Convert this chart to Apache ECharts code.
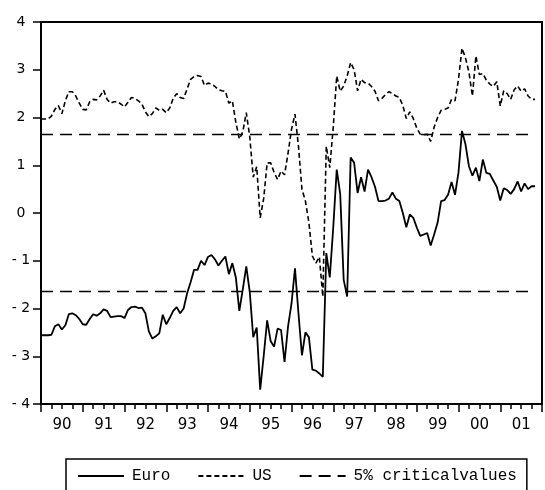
<!DOCTYPE html>
<html><head><meta charset="utf-8">
<script src="https://cdn.jsdelivr.net/npm/echarts@6/dist/echarts.min.js"></script>
<style>html,body{margin:0;padding:0;background:#fff}#c{width:545px;height:490px}</style>
</head><body><div id="c"></div>
<script>
const startYear = 1990;
const yearLabels = ['90','91','92','93','94','95','96','97','98','99','00','01'];
const seriesNames = ['Euro', 'US', '5% criticalvalues'];
const criticalValue = 1.645;

// monthly values, 1990:01 onward
const euro = [
  -2.56, -2.56, -2.56, -2.55, -2.37, -2.33, -2.44, -2.35, -2.12, -2.10,
  -2.14, -2.22, -2.33, -2.34, -2.22, -2.12, -2.15, -2.10, -2.02, -2.05,
  -2.18, -2.17, -2.16, -2.16, -2.20, -2.03, -1.97, -1.96, -1.99, -1.98,
  -2.10, -2.48, -2.63, -2.58, -2.52, -2.13, -2.33, -2.20, -2.05, -1.97,
  -2.10, -2.00, -1.68, -1.45, -1.19, -1.19, -1.00, -1.09, -0.92, -0.88,
  -0.97, -1.10, -1.00, -0.91, -1.28, -1.05, -1.35, -2.05, -1.60, -1.12,
  -1.65, -2.60, -2.40, -3.70, -3.00, -2.25, -2.68, -2.80, -2.42, -2.45,
  -3.12, -2.38, -1.90, -1.16, -2.10, -2.98, -2.50, -2.60, -3.28, -3.30,
  -3.36, -3.43, -0.84, -1.35, -0.30, 0.91, 0.40, -1.40, -1.75, 1.16,
  1.05, 0.42, 0.75, 0.45, 0.91, 0.75, 0.55, 0.25, 0.25, 0.26,
  0.30, 0.43, 0.30, 0.25, 0.00, -0.30, -0.03, -0.10, -0.30, -0.48,
  -0.45, -0.42, -0.68, -0.45, -0.20, 0.25, 0.27, 0.38, 0.65, 0.38,
  0.85, 1.72, 1.44, 0.98, 0.78, 0.95, 0.67, 1.12, 0.84, 0.82,
  0.68, 0.55, 0.26, 0.52, 0.48, 0.40, 0.50, 0.66, 0.45, 0.62,
  0.50, 0.56, 0.56
];
const us = [
  1.97, 1.97, 1.97, 2.03, 2.17, 2.25, 2.08, 2.35, 2.54, 2.54,
  2.45, 2.30, 2.17, 2.16, 2.33, 2.38, 2.37, 2.45, 2.57, 2.38,
  2.30, 2.33, 2.33, 2.28, 2.22, 2.32, 2.42, 2.40, 2.35, 2.28,
  2.12, 2.02, 2.08, 2.20, 2.15, 2.17, 2.10, 2.20, 2.40, 2.50,
  2.42, 2.40, 2.60, 2.80, 2.86, 2.88, 2.86, 2.67, 2.72, 2.70,
  2.65, 2.58, 2.56, 2.55, 2.30, 2.35, 1.90, 1.55, 1.70, 2.10,
  1.60, 0.75, 0.97, -0.10, 0.30, 1.05, 1.05, 0.85, 0.70, 0.88,
  0.80, 1.25, 1.75, 2.07, 1.40, 0.50, 0.25, -0.20, -0.90, -1.05,
  -0.92, -1.75, 1.40, 0.95, 1.80, 2.87, 2.55, 2.66, 2.87, 3.15,
  3.00, 2.56, 2.80, 2.73, 2.72, 2.65, 2.55, 2.35, 2.40, 2.48,
  2.54, 2.50, 2.45, 2.42, 2.25, 1.98, 2.12, 1.98, 1.78, 1.65,
  1.64, 1.65, 1.50, 1.80, 2.00, 2.15, 2.17, 2.20, 2.38, 2.35,
  2.80, 3.45, 3.25, 2.95, 2.45, 3.29, 2.90, 2.92, 2.78, 2.70,
  2.65, 2.75, 2.24, 2.56, 2.50, 2.38, 2.58, 2.66, 2.55, 2.60,
  2.45, 2.38, 2.38
];

const months = euro.map((_, i) => startYear + i / 12);
const pairs = arr => arr.map((v, i) => [months[i], v]);
const xFirst = months[0], xLast = months[months.length - 1];

const chart = echarts.init(document.getElementById('c'), null, {renderer: 'canvas'});
const black = '#000';
chart.setOption({
  animation: false,
  backgroundColor: '#fff',
  grid: {left: 41, top: 22, width: 511, height: 382, show: true, borderColor: black, borderWidth: 2, containLabel: false},
  xAxis: {
    type: 'value', min: startYear, max: startYear + 12, interval: 1,
    axisLine: {onZero: false, lineStyle: {color: black, width: 2}},
    axisTick: {length: 8, lineStyle: {color: black, width: 1.5}},
    minorTick: {show: true, splitNumber: 4, length: 5, lineStyle: {color: black, width: 1.5}},
    splitLine: {show: false},
    axisLabel: {
      formatter: v => {
        const k = Math.round(v - startYear);
        return (Math.abs(v - startYear - k) < 1e-6 && yearLabels[k]) ? yearLabels[k] : '';
      },
      padding: [0, 0, 0, 42], margin: 14, color: black, fontFamily: 'DejaVu Sans', fontSize: 15
    }
  },
  yAxis: {
    type: 'value', min: -4, max: 4, interval: 1,
    axisLine: {show: true, onZero: false, lineStyle: {color: black, width: 2}},
    axisTick: {show: true, length: 8, lineStyle: {color: black, width: 1.5}},
    splitLine: {show: false},
    axisLabel: {
      align: 'center', margin: 20, color: black, fontFamily: 'DejaVu Sans', fontSize: 14,
      formatter: v => v < 0 ? '- ' + (-v) : String(v)
    }
  },
  legend: {
    data: seriesNames, left: 66, top: 459, orient: 'horizontal',
    itemWidth: 46, itemHeight: 14, itemGap: 27,
    padding: [9, 10, 40, 11], borderColor: black, borderWidth: 1.5,
    itemStyle: {opacity: 0},
    textStyle: {fontFamily: 'Liberation Mono', fontSize: 16, color: black, padding: [0, 0, 0, 3]}
  },
  series: [
    {name: seriesNames[0], type: 'line', data: pairs(euro), symbol: 'none', color: black,
     lineStyle: {color: black, width: 1.8, type: 'solid'}},
    {name: seriesNames[1], type: 'line', data: pairs(us), symbol: 'none', color: black,
     lineStyle: {color: black, width: 1.6, type: [5, 3]}},
    {name: seriesNames[2], type: 'line', data: [[xFirst, criticalValue], [xLast, criticalValue]], symbol: 'none', color: black,
     lineStyle: {color: black, width: 1.6, type: [12, 7]}},
    {name: seriesNames[2], type: 'line', data: [[xFirst, -criticalValue], [xLast, -criticalValue]], symbol: 'none', color: black,
     lineStyle: {color: black, width: 1.6, type: [12, 7]}}
  ]
});
</script></body></html>
